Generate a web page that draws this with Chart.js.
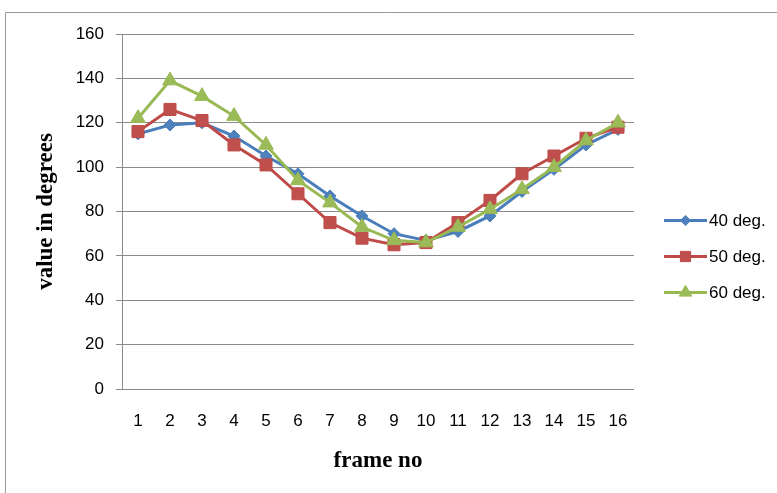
<!DOCTYPE html>
<html>
<head>
<meta charset="utf-8">
<title>value in degrees per frame</title>
<script src="https://cdn.jsdelivr.net/npm/chart.js@4.4.1/dist/chart.umd.min.js"></script>
<style>
  html, body { margin: 0; padding: 0; background: #ffffff; }
  #wrap { position: relative; width: 777px; height: 493px; }
</style>
</head>
<body>
<div id="wrap"><canvas id="c" width="777" height="493"></canvas></div>
<script>
// Frame numbers along the category axis
const frames = ['1', '2', '3', '4', '5', '6', '7', '8', '9', '10', '11', '12', '13', '14', '15', '16'];

// Measured angle per frame for each setting
const deg40 = [115, 119, 120, 114, 105, 97, 87, 78, 70, 67, 71, 78, 89, 99, 110, 117];
const deg50 = [116, 126, 121, 110, 101, 88, 75, 68, 65, 66, 75, 85, 97, 105, 113, 118];
const deg60 = [122, 139, 132, 123, 110, 94, 84, 73, 67, 66, 73, 81, 90, 100, 112, 120];

// Series names and value-axis ticks
const seriesNames = ['40 deg.', '50 deg.', '60 deg.'];
const yTickValues = [0, 20, 40, 60, 80, 100, 120, 140, 160];

const TICK_FONT = { family: "'Liberation Sans', Arial, sans-serif", size: 17 };
const TITLE_FONT = { family: "'Liberation Serif', 'Times New Roman', serif", size: 23, weight: 'bold' };
const GRID = '#8a8a8a';

const styles = [
  { line: '#4a7ebb', fill: '#4f81bd', shape: 'rectRot', r: 6 },
  { line: '#be4b48', fill: '#c0504d', shape: 'rect', r: 8.5 },
  { line: '#98b954', fill: '#9bbb59', shape: 'triangle', r: 8.5 }
];

function makeSet(i, values) {
  const s = styles[i];
  return {
    label: seriesNames[i],
    data: values,
    borderColor: s.line,
    backgroundColor: s.fill,
    borderWidth: 3,
    pointStyle: s.shape,
    pointRadius: s.r,
    pointHoverRadius: s.r,
    pointBackgroundColor: s.fill,
    pointBorderColor: s.line,
    pointBorderWidth: 1,
    tension: 0,
    order: 2 - i
  };
}

// Outer frame lines of the figure
const framePlugin = {
  id: 'frame',
  beforeDraw(chart) {
    const ctx = chart.ctx;
    ctx.save();
    ctx.fillStyle = '#ffffff';
    ctx.fillRect(0, 0, chart.width, chart.height);
    ctx.strokeStyle = '#9a9a9a';
    ctx.lineWidth = 1;
    ctx.beginPath();
    ctx.moveTo(5.5, chart.height);
    ctx.lineTo(5.5, 12.5);
    ctx.lineTo(chart.width, 12.5);
    ctx.stroke();
    ctx.restore();
  }
};

// Legend drawn as line + marker entries on the right
function marker(ctx, shape, r, x, y) {
  ctx.beginPath();
  if (shape === 'rect') {
    const h = r * Math.SQRT1_2;
    ctx.rect(x - h, y - h, 2 * h, 2 * h);
  } else if (shape === 'rectRot') {
    ctx.moveTo(x, y - r);
    ctx.lineTo(x + r, y);
    ctx.lineTo(x, y + r);
    ctx.lineTo(x - r, y);
    ctx.closePath();
  } else {
    for (let k = 0; k < 3; k++) {
      const a = k * 2 * Math.PI / 3;
      const px = x + Math.sin(a) * r, py = y - Math.cos(a) * r;
      if (k === 0) ctx.moveTo(px, py); else ctx.lineTo(px, py);
    }
    ctx.closePath();
  }
  ctx.fill();
  ctx.stroke();
}

const legendPlugin = {
  id: 'sideLegend',
  afterDraw(chart) {
    const ctx = chart.ctx;
    ctx.save();
    chart.data.datasets.forEach((ds, i) => {
      const s = styles[i];
      const y = 220.5 + i * 36;
      ctx.strokeStyle = s.line;
      ctx.lineWidth = 3;
      ctx.beginPath();
      ctx.moveTo(664, y);
      ctx.lineTo(707, y);
      ctx.stroke();
      ctx.fillStyle = s.fill;
      ctx.lineWidth = 1;
      marker(ctx, s.shape, s.r * 0.85, 685.5, y);
      ctx.fillStyle = '#000000';
      ctx.font = TICK_FONT.size + 'px ' + TICK_FONT.family;
      ctx.textBaseline = 'middle';
      ctx.textAlign = 'left';
      ctx.fillText(ds.label, 709, y + 1);
    });
    ctx.restore();
  }
};

new Chart(document.getElementById('c'), {
  type: 'line',
  data: {
    labels: frames,
    datasets: [makeSet(0, deg40), makeSet(1, deg50), makeSet(2, deg60)]
  },
  plugins: [framePlugin, legendPlugin],
  options: {
    responsive: false,
    animation: false,
    events: [],
    layout: { padding: { left: 0, top: 34, right: 143, bottom: 0 } },
    plugins: { legend: { display: false }, tooltip: { enabled: false } },
    scales: {
      x: {
        offset: true,
        grid: { display: false, drawTicks: false },
        border: { display: false },
        ticks: { color: '#000', font: TICK_FONT, padding: 22, maxRotation: 0, autoSkip: false },
        title: { display: true, text: 'frame no', color: '#000', font: TITLE_FONT, padding: { top: 0, bottom: 18 } },
        afterFit(scale) { scale.height = 104; }
      },
      y: {
        min: 0,
        max: 160,
        afterBuildTicks(scale) { scale.ticks = yTickValues.map(v => ({ value: v })); },
        grid: { color: GRID, lineWidth: 1, drawTicks: true, tickLength: 6 },
        border: { display: true, color: GRID, width: 1 },
        ticks: { color: '#000', font: TICK_FONT, padding: 12 },
        title: { display: true, text: 'value in degrees', color: '#000', font: TITLE_FONT, padding: { top: 32, bottom: 0 } },
        afterFit(scale) { scale.width = 122; }
      }
    }
  }
});
</script>
</body>
</html>
